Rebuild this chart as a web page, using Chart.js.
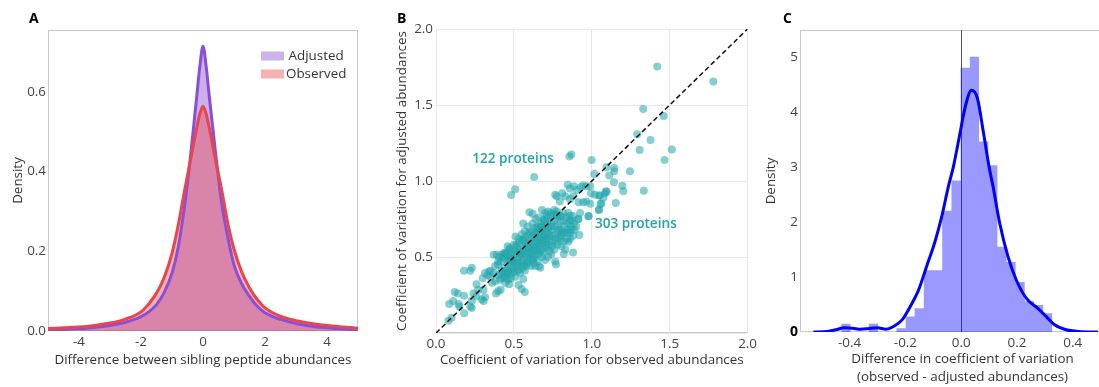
<!DOCTYPE html>
<html>
<head>
<meta charset="utf-8">
<script src="https://cdn.jsdelivr.net/npm/chart.js"></script>
<style>
  html, body { margin: 0; padding: 0; background: #fff; }
  body { width: 1099px; height: 387px; overflow: hidden; position: relative; font-family: "Open Sans", sans-serif; }
  canvas { position: absolute; top: 0; }
  .tag { position: absolute; top: 11px; font: bold 14px/14px "Open Sans", sans-serif; color: #000; }
</style>
</head>
<body>
<canvas id="chartA" width="370" height="387" style="left:0"></canvas>
<canvas id="chartB" width="390" height="387" style="left:370px"></canvas>
<canvas id="chartC" width="365" height="387" style="left:760px"></canvas>
<div class="tag" style="left:29px">A</div>
<div class="tag" style="left:397px">B</div>
<div class="tag" style="left:783px">C</div>
<script>
// ---------- Panel A: density of differences between sibling peptides ----------
const siblingDiff = [-5, -4.5, -4, -3.5, -3, -2.5, -2, -1.75, -1.5, -1.25, -1, -0.8, -0.6, -0.4, -0.2, -0.1,
                     0, 0.1, 0.2, 0.4, 0.6, 0.8, 1, 1.25, 1.5, 1.75, 2, 2.5, 3, 3.5, 4, 4.5, 5];
const adjustedDensity = [0.003, 0.004, 0.006, 0.009, 0.014, 0.022, 0.036, 0.048, 0.066, 0.097, 0.145, 0.21, 0.31, 0.44, 0.59, 0.665,
                         0.714, 0.665, 0.59, 0.45, 0.322, 0.235, 0.166, 0.118, 0.087, 0.062, 0.046, 0.029, 0.019, 0.012, 0.008, 0.005, 0.003];
const observedDensity = [0.006, 0.008, 0.010, 0.014, 0.020, 0.030, 0.048, 0.068, 0.095, 0.135, 0.195, 0.265, 0.35, 0.43, 0.51, 0.545,
                         0.564, 0.545, 0.51, 0.43, 0.355, 0.27, 0.205, 0.148, 0.108, 0.079, 0.058, 0.037, 0.026, 0.019, 0.014, 0.010, 0.007];
const seriesNamesA = ['Adjusted', 'Observed'];
const xTicksA = [-4, -2, 0, 2, 4];
const yTicksA = [0, 0.2, 0.4, 0.6];

// ---------- Panel B: coefficient of variation, observed vs adjusted ----------
const cvPairs = [
  [0.08,0.08],[0.10,0.10],[0.085,0.19],[0.11,0.21],[0.12,0.27],[0.14,0.26],[0.145,0.19],[0.15,0.175],[0.18,0.13],[0.18,0.245],
  [0.18,0.41],[0.23,0.43],[0.22,0.41],[0.22,0.175],[0.23,0.165],[0.23,0.21],[0.24,0.26],[0.26,0.32],[0.27,0.285],[0.26,0.24],
  [0.295,0.22],[0.305,0.21],[0.315,0.235],[0.305,0.285],[0.30,0.36],[0.315,0.395],[0.34,0.405],[0.35,0.37],[0.36,0.33],[0.37,0.395],
  [0.385,0.26],[0.40,0.275],[0.415,0.285],[0.38,0.34],[0.41,0.35],[0.415,0.39],[0.435,0.37],[0.445,0.33],[0.455,0.395],[0.465,0.35],
  [0.445,0.41],[0.37,0.515],[0.39,0.515],[0.42,0.515],[0.435,0.525],[0.46,0.57],[0.475,0.56],[0.51,0.635],[0.485,0.485],[0.50,0.46],
  [0.52,0.44],[0.485,0.415],[0.51,0.37],[0.53,0.315],[0.55,0.29],[0.57,0.27],[0.56,0.355],[0.54,0.395],[0.57,0.41],[0.58,0.44],
  [0.61,0.44],[0.625,0.46],[0.635,0.44],[0.66,0.44],[0.67,0.43],[0.56,0.72],[0.60,0.795],[0.62,0.785],[0.56,0.615],[0.58,0.57],
  [0.54,0.525],[0.52,0.57],[0.60,0.66],[0.65,0.70],[0.68,0.81],[0.69,0.745],[0.67,0.68],[0.71,0.77],[0.74,0.79],[0.76,0.81],
  [0.775,0.78],[0.80,0.77],[0.765,0.47],[0.77,0.45],[0.745,0.57],[0.71,0.56],[0.805,0.57],[0.84,0.615],[0.86,0.62],[0.87,0.68],
  [0.85,0.79],[0.86,0.77],[0.92,0.645],[0.88,0.53],[0.915,0.75],[0.925,0.79],[0.98,0.77],[0.915,0.86],[0.945,0.86],[0.965,0.865],
  [0.99,0.85],[1.02,0.91],[1.05,0.905],[1.06,0.85],[1.045,0.81],[1.095,0.93],[1.085,0.92],[1.075,0.89],[0.995,0.92],[0.99,0.965],
  [0.965,0.965],[0.945,0.97],[0.93,0.96],[0.885,0.965],[0.86,0.95],[0.845,0.975],[0.83,0.90],[0.905,0.94],[0.86,0.88],[0.88,0.90],
  [0.795,0.865],[0.775,0.90],[0.81,0.92],[0.765,0.91],
  [1.42,1.754],[1.78,1.654],[1.33,1.474],[1.462,1.428],[1.292,1.307],[1.377,1.27],[1.307,1.204],[1.514,1.208],[1.467,1.138],
  [0.869,1.175],[0.856,1.162],[0.999,1.138],[1.245,1.064],[1.016,1.046],[1.095,1.09],[1.144,1.086],[1.144,1.064],[1.112,1.037],
  [0.63,1.026],[1.334,0.936],[1.196,0.969],[1.202,0.932],[1.142,0.991],[1.154,0.855],[0.508,0.945],[0.482,0.908],[1.091,0.932],
  [1.048,0.904],[1.046,0.811],[1.057,0.851],[0.978,0.768],[0.912,0.748],
  [0.402,0.38],[0.398,0.45],[0.405,0.50],[0.421,0.41],[0.418,0.47],[0.425,0.36],
  [0.44,0.43],[0.437,0.49],[0.443,0.39],[0.446,0.53],[0.46,0.45],[0.463,0.40],[0.457,0.51],[0.466,0.48],
  [0.48,0.44],[0.477,0.50],[0.484,0.53],[0.482,0.39],[0.475,0.47],[0.50,0.47],[0.503,0.52],[0.497,0.43],[0.506,0.55],[0.494,0.49],
  [0.52,0.49],[0.517,0.53],[0.523,0.46],[0.515,0.58],[0.526,0.41],[0.54,0.50],[0.537,0.55],[0.544,0.47],[0.535,0.60],[0.547,0.44],[0.541,0.52],
  [0.56,0.52],[0.557,0.57],[0.563,0.48],[0.555,0.61],[0.566,0.45],[0.561,0.54],
  [0.58,0.54],[0.577,0.59],[0.583,0.50],[0.575,0.63],[0.586,0.47],[0.579,0.56],[0.588,0.52],
  [0.60,0.56],[0.597,0.61],[0.604,0.52],[0.595,0.65],[0.607,0.49],[0.601,0.58],[0.609,0.54],
  [0.62,0.58],[0.617,0.63],[0.624,0.54],[0.615,0.67],[0.627,0.51],[0.621,0.60],[0.629,0.56],
  [0.64,0.59],[0.637,0.64],[0.644,0.55],[0.635,0.69],[0.647,0.52],[0.641,0.62],[0.649,0.57],[0.638,0.66],
  [0.66,0.61],[0.657,0.66],[0.664,0.57],[0.655,0.70],[0.667,0.54],[0.661,0.63],[0.669,0.59],[0.658,0.68],
  [0.68,0.63],[0.677,0.68],[0.684,0.59],[0.675,0.72],[0.687,0.55],[0.681,0.65],[0.689,0.61],[0.678,0.70],
  [0.70,0.64],[0.697,0.69],[0.704,0.60],[0.695,0.74],[0.707,0.57],[0.701,0.67],[0.709,0.62],[0.698,0.72],
  [0.72,0.66],[0.717,0.71],[0.724,0.62],[0.715,0.75],[0.727,0.58],[0.721,0.69],[0.729,0.64],
  [0.74,0.68],[0.737,0.73],[0.744,0.64],[0.735,0.77],[0.747,0.60],[0.741,0.70],
  [0.76,0.70],[0.757,0.74],[0.764,0.65],[0.755,0.78],[0.767,0.62],
  [0.78,0.71],[0.777,0.76],[0.784,0.67],[0.775,0.80],[0.787,0.63],
  [0.80,0.73],[0.797,0.77],[0.804,0.68],[0.807,0.64],[0.82,0.74],[0.824,0.70],[0.817,0.79],[0.827,0.66],
  [0.84,0.76],[0.844,0.72],[0.847,0.68],[0.86,0.74],[0.864,0.70],[0.88,0.77],[0.884,0.72],
  [0.78,0.58],[0.80,0.62],[0.82,0.60],[0.83,0.55],[0.85,0.60],[0.86,0.66],[0.88,0.64],[0.90,0.70],[0.82,0.52],[0.79,0.68],
  [0.84,0.66],[0.87,0.74],[0.89,0.68],[0.76,0.55],[0.74,0.52],[0.72,0.50],[0.70,0.48],[0.68,0.50],[0.65,0.47],[0.63,0.49],
  [0.66,0.52],[0.69,0.53],[0.73,0.54],[0.77,0.60],[0.81,0.66],
  [0.40,0.47],[0.43,0.50],[0.45,0.52],[0.47,0.55],[0.50,0.58],[0.53,0.62],[0.55,0.65],[0.57,0.67],[0.59,0.70],[0.62,0.72],
  [0.64,0.75],[0.66,0.76],[0.70,0.79],[0.72,0.80],[0.33,0.38],[0.35,0.41],[0.38,0.44],
  [0.50,0.40],[0.53,0.42],[0.56,0.43],[0.59,0.46],[0.62,0.48],[0.48,0.36],[0.45,0.36],[0.47,0.32]
];
const identityLine = [0, 2];
const proteinCounts = [122, 303];
const cvTicks = [0, 0.5, 1, 1.5, 2];

// ---------- Panel C: histogram and density of CV differences ----------
const histEdges = [-0.430, -0.397, -0.364, -0.331, -0.298, -0.265, -0.232, -0.199, -0.167, -0.134, -0.101, -0.068,
                   -0.035, -0.002, 0.031, 0.064, 0.097, 0.130, 0.163, 0.195, 0.228, 0.261, 0.294, 0.327];
const histDensity = [0.15, 0, 0, 0.15, 0, 0, 0.07, 0.28, 0.43, 1.12, 1.12, 2.2,
                     2.75, 4.8, 5.0, 3.46, 3.03, 1.55, 1.27, 0.91, 0.56, 0.49, 0.34];
const kdeX = [-0.53, -0.48, -0.45, -0.42, -0.39, -0.36, -0.33, -0.30, -0.27, -0.243, -0.212, -0.183, -0.153, -0.124,
              -0.094, -0.07, -0.046, -0.028, -0.002, 0.015, 0.037, 0.058, 0.079, 0.10, 0.114, 0.138, 0.168, 0.198,
              0.234, 0.275, 0.305, 0.335, 0.376, 0.42, 0.49];
const kdeY = [0, 0.01, 0.04, 0.075, 0.07, 0.05, 0.065, 0.075, 0.05, 0.1, 0.22, 0.46, 0.76, 1.19,
              1.64, 2.09, 2.64, 3.0, 3.67, 4.1, 4.39, 4.25, 3.65, 3.0, 2.65, 1.98, 1.37, 0.94,
              0.61, 0.43, 0.28, 0.13, 0.04, 0.01, 0];
const xTicksC = [-0.4, -0.2, 0, 0.2, 0.4];
const yTicksC = [0, 1, 2, 3, 4, 5];

// ---------- shared styling ----------
Chart.defaults.font.family = '"Open Sans", sans-serif';
Chart.defaults.font.size = 13.4;
const TICK = '#444';
const TITLE = '#333';

// light grey box around each plotting area
const frame = {
  id: 'frame',
  beforeDraw(chart) {
    const { ctx, chartArea: a } = chart;
    ctx.save();
    ctx.strokeStyle = '#c8c8c8';
    ctx.lineWidth = 1;
    ctx.strokeRect(Math.round(a.left) + 0.5, Math.round(a.top) + 0.5, Math.round(a.width) - 1, Math.round(a.height) - 1);
    ctx.restore();
  }
};

function setTicks(values) {
  return scale => { scale.ticks = values.map(v => ({ value: v })); };
}

// ---------- Panel A ----------
const legendA = {
  id: 'legendA',
  afterDraw(chart) {
    const { ctx } = chart;
    const swatches = ['#c9b4ea', '#f4b2b2'];
    const rows = [56, 74];
    ctx.save();
    ctx.font = '13.4px "Open Sans", sans-serif';
    ctx.textBaseline = 'middle';
    seriesNamesA.forEach((name, i) => {
      ctx.fillStyle = swatches[i];
      ctx.fillRect(261, rows[i] - 4.5, 23, 9);
      ctx.fillStyle = TITLE;
      ctx.fillText(name, i === 0 ? 288.5 : 286, rows[i]);
    });
    ctx.restore();
  }
};

new Chart(document.getElementById('chartA'), {
  type: 'line',
  data: {
    datasets: [
      {
        label: seriesNamesA[0],
        data: siblingDiff.map((x, i) => ({ x, y: adjustedDensity[i] })),
        borderColor: '#8a4fd8', borderWidth: 3,
        backgroundColor: 'rgba(140,80,215,0.45)', fill: 'origin',
        pointRadius: 0, cubicInterpolationMode: 'monotone', order: 2
      },
      {
        label: seriesNamesA[1],
        data: siblingDiff.map((x, i) => ({ x, y: observedDensity[i] })),
        borderColor: '#e8464a', borderWidth: 3,
        backgroundColor: 'rgba(235,75,75,0.42)', fill: 'origin',
        pointRadius: 0, cubicInterpolationMode: 'monotone', order: 1
      }
    ]
  },
  options: {
    responsive: false, animation: false,
    layout: { padding: { top: 30, right: 12, left: 0, bottom: 0 } },
    plugins: { legend: { display: false }, tooltip: { enabled: false }, filler: { drawTime: 'beforeDatasetsDraw' } },
    scales: {
      x: {
        type: 'linear', min: -5, max: 5,
        grid: { display: false, drawTicks: false }, border: { display: false },
        afterBuildTicks: setTicks(xTicksA),
        ticks: { color: TICK, padding: 3, callback: v => String(v) },
        title: { display: true, text: 'Difference between sibling peptide abundances', color: TITLE, padding: { top: 0, bottom: 19 } },
        afterFit: s => { s.height = 56; }
      },
      y: {
        type: 'linear', min: 0, max: 0.755,
        grid: { display: false, drawTicks: false }, border: { display: false },
        afterBuildTicks: setTicks(yTicksA),
        ticks: { color: TICK, padding: 2, callback: v => v.toFixed(1) },
        title: { display: true, text: 'Density', color: TITLE, padding: { top: 10, bottom: 0 } },
        afterFit: s => { s.width = 48; }
      }
    }
  },
  plugins: [frame, legendA]
});

// ---------- Panel B ----------
const countLabels = {
  id: 'countLabels',
  afterDatasetsDraw(chart, args, opts) {
    const { ctx, scales: { x, y } } = chart;
    ctx.save();
    ctx.font = '600 13.6px "Open Sans", sans-serif';
    ctx.fillStyle = '#23a3ab';
    ctx.textAlign = 'center';
    ctx.textBaseline = 'middle';
    proteinCounts.forEach((n, i) => {
      const at = opts.anchors[i];
      ctx.fillText(n + ' proteins', x.getPixelForValue(at[0]), y.getPixelForValue(at[1]));
    });
    ctx.restore();
  }
};

new Chart(document.getElementById('chartB'), {
  type: 'scatter',
  data: {
    datasets: [
      {
        type: 'line',
        data: identityLine.map(v => ({ x: v, y: v })),
        borderColor: '#111', borderWidth: 1.5, borderDash: [5, 3],
        pointRadius: 0, fill: false, order: 0
      },
      {
        data: cvPairs.map(p => ({ x: p[0], y: p[1] })),
        backgroundColor: 'rgba(32,165,172,0.55)', borderWidth: 0,
        pointRadius: 4, order: 1
      }
    ]
  },
  options: {
    responsive: false, animation: false,
    layout: { padding: { top: 29, right: 12, left: 0, bottom: 0 } },
    plugins: {
      legend: { display: false }, tooltip: { enabled: false },
      countLabels: { anchors: [[0.495, 1.145], [1.283, 0.717]] }
    },
    scales: {
      x: {
        type: 'linear', min: 0, max: 2,
        grid: { color: '#e8e8e8', drawTicks: false }, border: { display: false },
        afterBuildTicks: setTicks(cvTicks),
        ticks: { color: TICK, padding: 3, callback: v => v.toFixed(1) },
        title: { display: true, text: 'Coefficient of variation for observed abundances', color: TITLE, padding: { top: 0, bottom: 19 } },
        afterFit: s => { s.height = 54; }
      },
      y: {
        type: 'linear', min: 0, max: 2,
        grid: { color: '#e8e8e8', drawTicks: false }, border: { display: false },
        afterBuildTicks: setTicks(cvTicks),
        ticks: { color: TICK, padding: 3, callback: v => (v === 0 ? '' : v.toFixed(1)) },
        title: { display: true, text: 'Coefficient of variation for adjusted abundances', color: TITLE, padding: { top: 24, bottom: 0 } },
        afterFit: s => { s.width = 66; }
      }
    }
  },
  plugins: [frame, countLabels]
});

// ---------- Panel C ----------
const zeroLine = {
  id: 'zeroLine',
  beforeDatasetsDraw(chart) {
    const { ctx, chartArea: a, scales: { x } } = chart;
    const px = Math.round(x.getPixelForValue(0)) + 0.5;
    ctx.save();
    ctx.strokeStyle = '#555';
    ctx.lineWidth = 1;
    ctx.beginPath();
    ctx.moveTo(px, a.top);
    ctx.lineTo(px, a.bottom);
    ctx.stroke();
    ctx.restore();
  }
};

const histPoints = histDensity.map((h, i) => ({ x: histEdges[i], y: h }))
  .concat([{ x: histEdges[histEdges.length - 1], y: 0 }]);

new Chart(document.getElementById('chartC'), {
  type: 'line',
  data: {
    datasets: [
      {
        data: kdeX.map((x, i) => ({ x, y: kdeY[i] })),
        borderColor: '#0000ff', borderWidth: 3, fill: false,
        pointRadius: 0, cubicInterpolationMode: 'monotone', order: 1
      },
      {
        data: histPoints,
        stepped: 'before', borderWidth: 0, borderColor: 'rgba(0,0,0,0)',
        backgroundColor: 'rgba(0,0,255,0.4)', fill: 'origin',
        pointRadius: 0, order: 2
      }
    ]
  },
  options: {
    responsive: false, animation: false,
    layout: { padding: { top: 30, right: 0, left: 0, bottom: 0 } },
    plugins: { legend: { display: false }, tooltip: { enabled: false } },
    scales: {
      x: {
        type: 'linear', min: -0.578, max: 0.5875,
        grid: { display: false, drawTicks: false }, border: { display: false },
        afterBuildTicks: setTicks(xTicksC),
        ticks: { color: TICK, padding: 3, callback: v => v.toFixed(1) },
        title: {
          display: true, text: ['Difference in coefficient of variation', '(observed - adjusted abundances)'],
          color: TITLE, font: { size: 13.4, lineHeight: 1.4 }, padding: { top: 0, bottom: 0 }
        },
        afterFit: s => { s.height = 55; }
      },
      y: {
        type: 'linear', min: 0, max: 5.485,
        grid: { display: false, drawTicks: false }, border: { display: false },
        afterBuildTicks: setTicks(yTicksC),
        ticks: {
          padding: 2,
          color: c => (c.tick && c.tick.value === 0 ? '#000' : TICK),
          font: c => (c.tick && c.tick.value === 0 ? { size: 14, weight: 'bold' } : { size: 13.4 }),
          callback: v => String(v)
        },
        title: { display: true, text: 'Density', color: TITLE, padding: { top: 3, bottom: 0 } },
        afterFit: s => { s.width = 40; }
      }
    }
  },
  plugins: [frame, zeroLine]
});
</script>
</body>
</html>
